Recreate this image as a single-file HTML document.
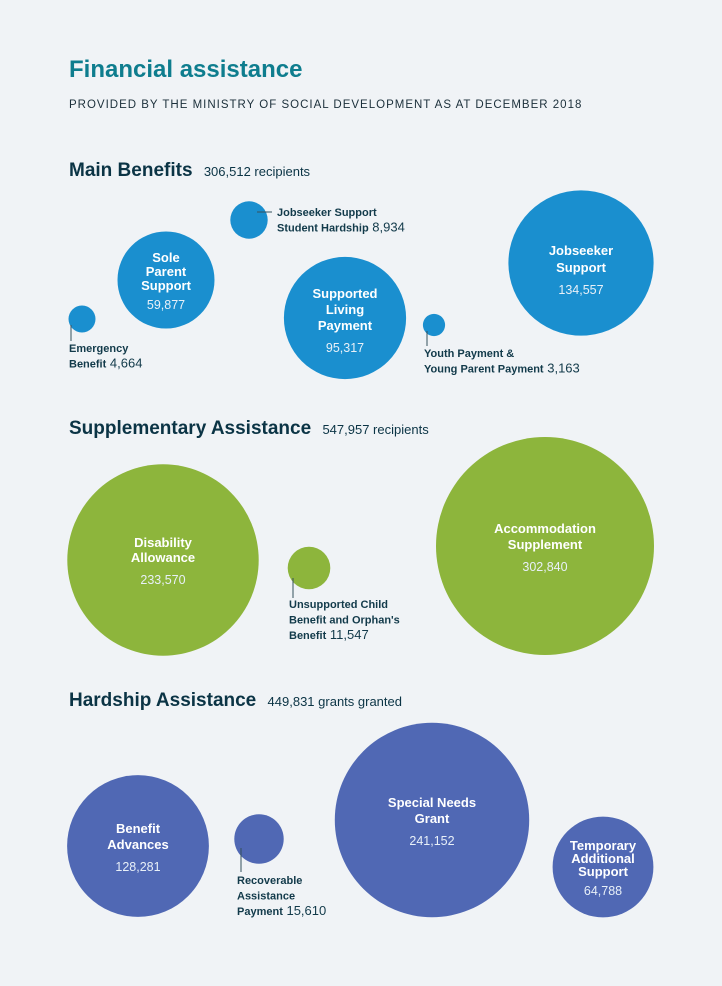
<!DOCTYPE html>
<html><head><meta charset="utf-8"><style>
html,body{margin:0;padding:0;background:#f0f3f6;}
svg{display:block;font-family:"Liberation Sans",sans-serif;}
.in{fill:#fff;font-size:13px;font-weight:bold;text-anchor:middle}
.iv{fill:#e8f0f8;font-size:12.5px;text-anchor:middle}
.out{fill:#123a4a;font-size:11px;font-weight:bold}
.ov{font-size:13px;font-weight:normal}
</style></head><body>
<svg id="chart" width="722" height="986" viewBox="0 0 722 986">
<rect width="722" height="986" fill="#f0f3f6"/>
<text x="69" y="77" font-size="24" font-weight="bold" fill="#0e7d8e">Financial assistance</text>
<text x="69" y="108" font-size="11.5" letter-spacing="1" fill="#1b2f3a">PROVIDED BY THE MINISTRY OF SOCIAL DEVELOPMENT AS AT DECEMBER 2018</text>
<text x="69" y="176" font-size="19" font-weight="bold" fill="#0b3445">Main Benefits <tspan font-size="13" font-weight="normal" dx="6">306,512 recipients</tspan></text>
<text x="69" y="434" font-size="19" font-weight="bold" fill="#0b3445">Supplementary Assistance <tspan font-size="13" font-weight="normal" dx="6">547,957 recipients</tspan></text>
<text x="69" y="706" font-size="19" font-weight="bold" fill="#0b3445">Hardship Assistance <tspan font-size="13" font-weight="normal" dx="6">449,831 grants granted</tspan></text>
<g id="bubbles"></g>
<g id="labels"></g>
</svg>
<script>
const categories = ["Jobseeker Support Student Hardship","Sole Parent Support","Emergency Benefit","Supported Living Payment","Youth Payment & Young Parent Payment","Jobseeker Support","Disability Allowance","Unsupported Child Benefit and Orphan's Benefit","Accommodation Supplement","Benefit Advances","Recoverable Assistance Payment","Special Needs Grant","Temporary Additional Support"];
const values = [8934,59877,4664,95317,3163,134557,233570,11547,302840,128281,15610,241152,64788];
const groups = ["main","main","main","main","main","main","supp","supp","supp","hard","hard","hard","hard"];
const valueLabels = ["8,934","59,877","4,664","95,317","3,163","134,557","233,570","11,547","302,840","128,281","15,610","241,152","64,788"];
// layout (centres) – not data
const cx = [249,166,82,345,434,581,163,309,545,138,259,432,603];
const cy = [220,280,319,318,325,263,560,568,546,846,839,820,867];
const colors = {main:"#1a8fcf",supp:"#8db53c",hard:"#5068b4"};
const rScale = v => 0.198*Math.sqrt(v);
const NS="http://www.w3.org/2000/svg";
const gb=document.getElementById('bubbles'), gl=document.getElementById('labels');
values.forEach((v,i)=>{
  const c=document.createElementNS(NS,'circle');
  c.setAttribute('cx',cx[i]);c.setAttribute('cy',cy[i]);c.setAttribute('r',rScale(v).toFixed(1));
  c.setAttribute('fill',colors[groups[i]]);
  
  
  gb.appendChild(c);
});
// inside labels: [index, lines, offsets(rel to cy), value offset]
const inside=[
 [1,["Sole","Parent","Support"],[-18,-4,10],29],
 [3,["Supported","Living","Payment"],[-20,-4,12],34],
 [5,["Jobseeker","Support"],[-8,9],31],
 [6,["Disability","Allowance"],[-13,2],24],
 [8,["Accommodation","Supplement"],[-13,3],25],
 [9,["Benefit","Advances"],[-13,3],25],
 [11,["Special Needs","Grant"],[-13,3],25],
 [12,["Temporary","Additional","Support"],[-17,-4,9],28]
];
inside.forEach(([i,lines,offs,vo])=>{
  lines.forEach((l,k)=>{
    const t=document.createElementNS(NS,'text');
    t.setAttribute('x',cx[i]);t.setAttribute('y',cy[i]+offs[k]);t.setAttribute('class','in');
    t.textContent=l;
    
    
    gl.appendChild(t);
  });
  const t=document.createElementNS(NS,'text');
  t.setAttribute('x',cx[i]);t.setAttribute('y',cy[i]+vo);t.setAttribute('class','iv');
  t.textContent=valueLabels[i];
  
  
  gl.appendChild(t);
});
// outside labels: [index, lines, x, y0, line coords]
const outside=[
 [0,["Jobseeker Support","Student Hardship"],277,216,[257,212,272,212]],
 [2,["Emergency","Benefit"],69,352,[71,325,71,341]],
 [4,["Youth Payment &","Young Parent Payment"],424,357,[427,331,427,346]],
 [7,["Unsupported Child","Benefit and Orphan's","Benefit"],289,608,[293,578,293,598]],
 [10,["Recoverable","Assistance","Payment"],237,884,[241,848,241,872]]
];
outside.forEach(([i,lines,x,y0,ln])=>{
  const l=document.createElementNS(NS,'line');
  l.setAttribute('x1',ln[0]);l.setAttribute('y1',ln[1]);l.setAttribute('x2',ln[2]);l.setAttribute('y2',ln[3]);
  l.setAttribute('stroke','#35505c');l.setAttribute('stroke-width','1');
  
  
  gl.appendChild(l);
  lines.forEach((s,k)=>{
    const t=document.createElementNS(NS,'text');
    t.setAttribute('x',x);t.setAttribute('y',y0+k*15.5);t.setAttribute('class','out');
    t.textContent=s;
    if(k===lines.length-1){
      const sp=document.createElementNS(NS,'tspan');
      sp.setAttribute('class','ov');sp.textContent=' '+valueLabels[i];
      t.appendChild(sp);
    }
    
    
    gl.appendChild(t);
  });
});
</script>
</body></html>
